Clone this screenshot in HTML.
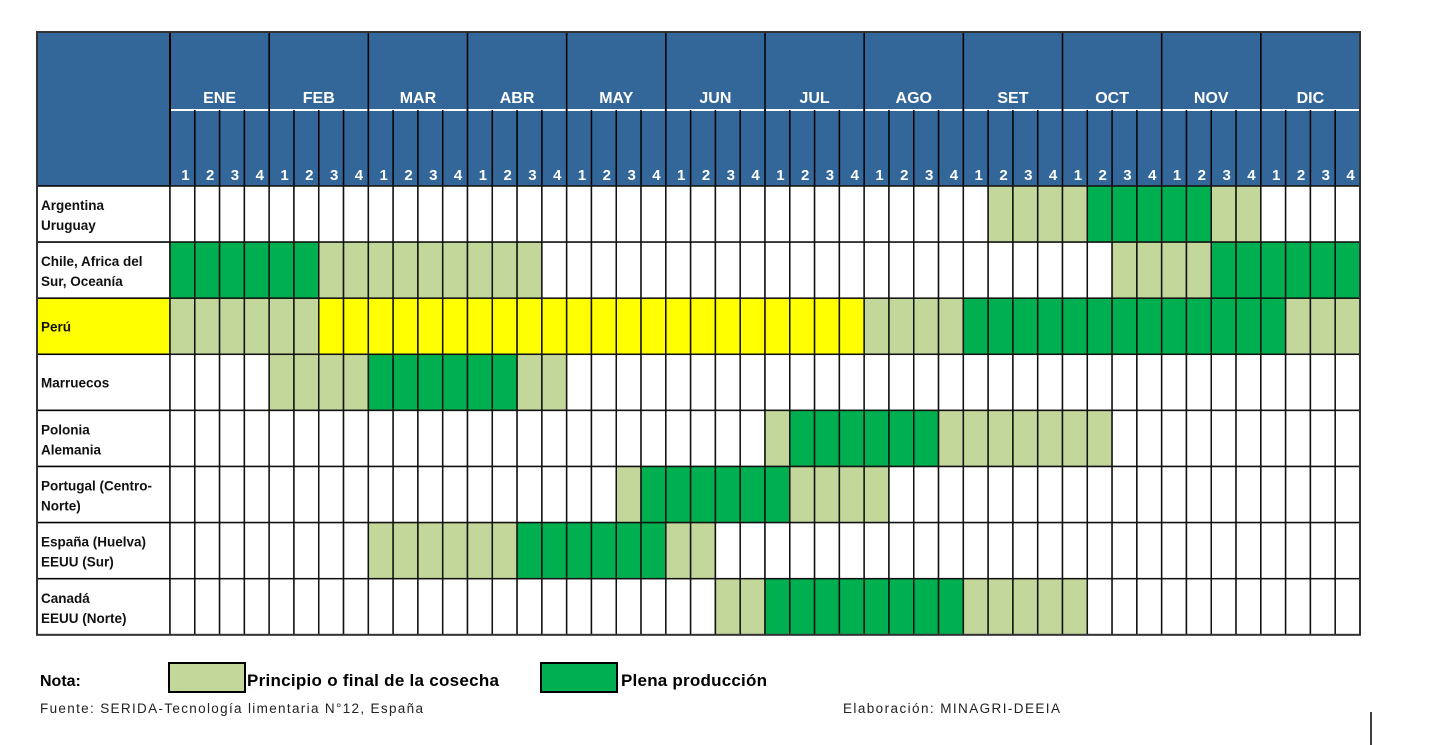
<!DOCTYPE html>
<html><head><meta charset="utf-8"><style>
body{margin:0;background:#fff;width:1429px;height:745px;overflow:hidden;font-family:"Liberation Sans",sans-serif}
svg{display:block}
</style></head><body>
<svg id="chart" width="1429" height="745" font-family="Liberation Sans, sans-serif">
<g id="header"></g>
<g id="grid"></g>
<g id="labels"></g>
<g>
<text x="40" y="686" font-size="16" font-weight="bold" fill="#000">Nota:</text>
<rect x="169" y="663" width="76" height="29" fill="#c4d79b" stroke="#000" stroke-width="2"/>
<text x="247" y="686" font-size="17" font-weight="bold" fill="#000" textLength="252">Principio o final de la cosecha</text>
<rect x="541" y="663" width="76" height="29" fill="#00b050" stroke="#000" stroke-width="2"/>
<text x="621" y="686" font-size="17" font-weight="bold" fill="#000" textLength="146">Plena producción</text>
</g>
<text x="40" y="713" font-size="13.5" fill="#222" textLength="383">Fuente: SERIDA-Tecnología limentaria N°12, España</text>
<text x="843" y="713" font-size="13.5" fill="#222" textLength="217">Elaboración: MINAGRI-DEEIA</text>
<line x1="1371" y1="712" x2="1371" y2="745" stroke="#000" stroke-width="1.5"/>
</svg>
<script>
const months=["ENE","FEB","MAR","ABR","MAY","JUN","JUL","AGO","SET","OCT","NOV","DIC"];
const weekLabels=["1","2","3","4"];
const rowLabels=[["Argentina","Uruguay"],["Chile, Africa del","Sur, Oceanía"],["Perú"],["Marruecos"],["Polonia","Alemania"],["Portugal (Centro-","Norte)"],["España (Huelva)","EEUU (Sur)"],["Canadá","EEUU (Norte)"]];
// codes per week: 0 none, 1 principio/final, 2 plena, 3 peru (yellow)
const rowArgentina="000000000000000000000000000000000111122222110000";
const rowChile    ="222222111111111000000000000000000000001111222222";
const rowPeru     ="111111333333333333333333333311112222222222222111";
const rowMarruecos="000011112222221100000000000000000000000000000000";
const rowPolonia  ="000000000000000000000000122222211111110000000000";
const rowPortugal ="000000000000000000122222211110000000000000000000";
const rowEspana   ="000000001111112222221100000000000000000000000000";
const rowCanada   ="000000000000000000000011222222221111100000000000";
const rows=[rowArgentina,rowChile,rowPeru,rowMarruecos,rowPolonia,rowPortugal,rowEspana,rowCanada];

const NS="http://www.w3.org/2000/svg";
const X0=37,LX=170,X1=1360,Y0=32,MY=110,HY=186,RH=56.1;
const CW=(X1-LX)/48;
const xOf=i=>LX+i*CW, yOf=r=>HY+r*RH;
const fills=["#ffffff","#c4d79b","#00b050","#ffff00"];
function mk(tag,attrs,parent){const e=document.createElementNS(NS,tag);for(const k in attrs)e.setAttribute(k,attrs[k]);parent.appendChild(e);return e;}
const H=document.getElementById('header'),G=document.getElementById('grid'),L=document.getElementById('labels');
let e=mk('rect',{x:X0,y:Y0,width:X1-X0,height:HY-Y0,fill:"#336699",stroke:"#444",'stroke-width':1.5},H);


mk('line',{x1:LX,y1:Y0,x2:LX,y2:HY,stroke:"#000",'stroke-width':2},H);
months.forEach((m,i)=>{
  const x=LX+i*4*CW;
  mk('line',{x1:x+4*CW,y1:Y0,x2:x+4*CW,y2:HY,stroke:"#000",'stroke-width':1.5},H);
  mk('line',{x1:x+1,y1:MY,x2:x+4*CW-1,y2:MY,stroke:"#fff",'stroke-width':2},H);
  const t=mk('text',{x:x+2*CW,y:103,'font-size':16,'font-weight':'bold',fill:"#fff",'text-anchor':'middle'},H);
  t.textContent=m;
  
  
  weekLabels.forEach((w,j)=>{
    const wx=x+j*CW;
    if(j>0)mk('line',{x1:wx,y1:MY,x2:wx,y2:HY,stroke:"#000",'stroke-width':1.5},H);
    const tw=mk('text',{x:wx+CW/2+3,y:180,'font-size':15,'font-weight':'bold',fill:"#fff",'text-anchor':'middle'},H);
    tw.textContent=w;
    
    
  });
});
rows.forEach((row,r)=>{
  const y=yOf(r);
  const lbg=mk('rect',{x:X0,y:y,width:LX-X0,height:RH,fill:r===2?"#ffff00":"#fff",stroke:"#000",'stroke-width':1.5},G);
  
  
  for(let i=0;i<48;i++){
    const c=+row[i];
    const cell=mk('rect',{x:xOf(i),y:y,width:CW,height:RH,fill:fills[c],stroke:"#111",'stroke-width':1.5},G);
    
    
  }
  const lines=rowLabels[r];
  lines.forEach((ln,k)=>{
    const ty=lines.length===1?y+RH/2+5:y+RH/2-4+k*20;
    const t=mk('text',{x:41,y:ty,'font-size':13.5,'font-weight':'bold',fill:"#111"},L);
    t.textContent=ln;
    
    
  });
});
mk('rect',{x:X0,y:Y0,width:X1-X0,height:HY+8*RH-Y0,fill:"none",stroke:"#333",'stroke-width':2},G);
</script>
</body></html>
